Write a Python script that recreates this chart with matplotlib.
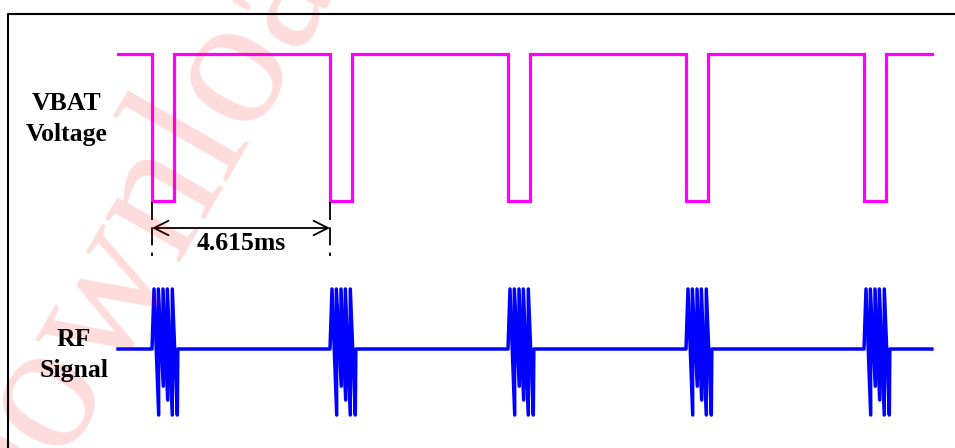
import matplotlib.pyplot as plt
import matplotlib.transforms as mtransforms
from matplotlib.lines import Line2D

# GSM burst timing (ms)
period = 4.615
slot = 0.577
n_bursts = 5
t_start = -0.88
t_end = 20.22

# VBAT levels (normalised)
vbat_high = 1.0
vbat_low = 0.0

# RF burst shape: offsets (ms) from burst start, normalised amplitude
rf_peak_offsets = [0.052, 0.164, 0.285, 0.397, 0.526]
rf_trough_offsets = [0.174, 0.293, 0.407, 0.526, 0.656]
rf_peak = 1.0
rf_troughs = [-1.1, -0.62, -0.85, -1.1, -1.1]
rf_burst_end = 0.67

# build the VBAT step waveform
vx = [t_start]
vy = [vbat_high]
for k in range(n_bursts):
    fall = k * period
    rise = fall + slot
    vx += [fall, fall, rise, rise]
    vy += [vbat_high, vbat_low, vbat_low, vbat_high]
vx.append(t_end)
vy.append(vbat_high)

# build the RF trace
rx = [t_start]
ry = [0.0]
for k in range(n_bursts):
    t0 = k * period
    rx.append(t0)
    ry.append(0.0)
    for p, q, lo in zip(rf_peak_offsets, rf_trough_offsets, rf_troughs):
        rx += [t0 + p, t0 + q]
        ry += [rf_peak, lo]
    rx.append(t0 + rf_burst_end)
    ry.append(0.0)
rx.append(t_end)
ry.append(0.0)

W, H = 955, 448
px_per_ms = 178 / period
x0 = 152
xlim = (-x0 / px_per_ms, (W - x0) / px_per_ms)

fig = plt.figure(figsize=(9.55, 4.48), dpi=100)
fig.patch.set_facecolor('white')

# faint watermark
fig.text(150 / W, 1 - 215 / H, 'Download', rotation=60, rotation_mode='anchor',
         ha='center', va='center', fontsize=135, family='Liberation Serif',
         color='#ff0000', alpha=0.14, zorder=0)

ax_v = fig.add_axes([0, 1 - 201 / H, 1, 147 / H])
ax_v.set_xlim(*xlim)
ax_v.set_ylim(vbat_low, vbat_high)
ax_v.axis('off')
ax_v.patch.set_alpha(0)
ax_v.plot(vx, vy, color='#ff00ff', lw=2.3, clip_on=False, solid_joinstyle='miter')

ax_rf = fig.add_axes([0, 1 - 409 / H, 1, 120 / H])
ax_rf.set_xlim(*xlim)
ax_rf.set_ylim(-1, 1)
ax_rf.axis('off')
ax_rf.patch.set_alpha(0)
ax_rf.plot(rx, ry, color='#0000ff', lw=2.5, clip_on=False)

# dimension marker for one period
tr = mtransforms.blended_transform_factory(ax_v.transData, fig.transFigure)
for t in (0, period):
    ax_v.add_line(Line2D([t, t], [1 - 202 / H, 1 - 256 / H], transform=tr,
                         color='black', lw=1.3, linestyle=(0, (10, 4)),
                         clip_on=False))
ax_v.annotate('', xy=(0, 1 - 228 / H), xytext=(period, 1 - 228 / H),
              xycoords=tr, textcoords=tr,
              arrowprops=dict(arrowstyle='<->', color='black', lw=1.3,
                              mutation_scale=26, shrinkA=0, shrinkB=0))
ax_v.text(period / 2, 1 - 244 / H, '4.615ms', transform=tr, ha='center',
          va='center', fontsize=18.5, fontweight='bold',
          family='Liberation Serif')

fig.text(67 / W, 1 - 119 / H, 'VBAT\nVoltage', ha='center', va='center',
         fontsize=18.5, fontweight='bold', family='Liberation Serif',
         linespacing=1.4)
fig.text(74 / W, 1 - 355 / H, 'RF\nSignal', ha='center', va='center',
         fontsize=18.5, fontweight='bold', family='Liberation Serif',
         linespacing=1.4)

# border
fig.add_artist(Line2D([8 / W, 8 / W, 1], [0, 1 - 14 / H, 1 - 14 / H],
                      transform=fig.transFigure, color='black', lw=1.5))

fig.savefig('out.png', dpi=100)
